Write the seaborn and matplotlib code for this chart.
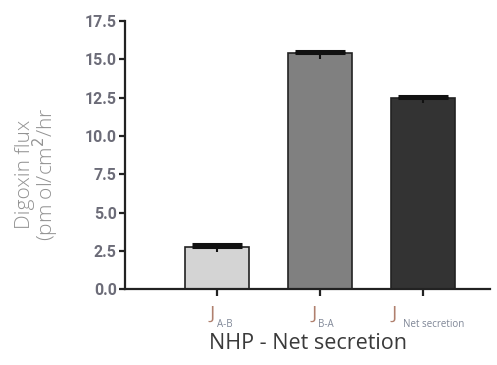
import numpy as np
import pandas as pd
import seaborn as sns
import matplotlib.pyplot as plt

# datos
categorias = ["A-B", "B-A", "Net secretion"]
flujo = [2.75, 15.4, 12.45]
error_sup = [0.2, 0.15, 0.15]
error_inf = [0.35, 0.4, 0.3]
colores = ["#d4d4d4", "#808080", "#333333"]

df = pd.DataFrame({"cat": categorias, "flux": flujo})

sns.set_style("ticks")
plt.rcParams['font.family'] = ['Open Sans', 'DejaVu Sans']

fig = plt.figure(figsize=(4.97, 3.65), dpi=100)
ax = fig.add_axes([0.2515, 0.208, 0.7345, 0.734])

sns.barplot(data=df, x="cat", y="flux", hue="cat", palette=colores, legend=False,
            width=0.62, edgecolor="#222222", linewidth=1.2, ax=ax)

x = np.arange(len(categorias))
# parte superior con tapa
ax.errorbar(x, flujo, yerr=[np.zeros(3), error_sup], fmt="none", ecolor="#111111",
            elinewidth=1.5, capsize=18, capthick=2.2)
# parte inferior sin tapa
ax.errorbar(x, flujo, yerr=[error_inf, np.zeros(3)], fmt="none", ecolor="#111111",
            elinewidth=1.5, capsize=0)

ax.set_ylim(0, 17.5)
ax.set_yticks(np.arange(0, 17.6, 2.5))
ax.set_yticklabels([f"{v:.1f}" for v in np.arange(0, 17.6, 2.5)])
ax.set_xlim(-0.89, 2.65)
ax.set_xticks(x)
ax.set_xticklabels([""] * len(x))

# etiquetas J con subindice pequeño (desplazamiento en puntos)
desp_j = [-1.5, -2.0, -18.7]
desp_sub = [0.5, -1.5, -14.4]
for i, sub in enumerate(categorias):
    ax.annotate("J", xy=(i, 0), xycoords=("data", "axes fraction"),
                xytext=(desp_j[i], -21.5), textcoords="offset points",
                ha="right", va="baseline", fontsize=14, color="#b0806e")
    ax.annotate(sub, xy=(i, 0), xycoords=("data", "axes fraction"),
                xytext=(desp_sub[i], -27), textcoords="offset points",
                ha="left", va="baseline", fontsize=7, color="#7f8696")

for s in ["top", "right"]:
    ax.spines[s].set_visible(False)
for s in ["left", "bottom"]:
    ax.spines[s].set_linewidth(1.6)
    ax.spines[s].set_color("#222222")

ax.tick_params(axis="y", direction="out", length=4, width=1.6, color="#222222",
               labelsize=11.5, labelcolor="#6c6c78", pad=2)
ax.tick_params(axis="x", direction="out", length=5, width=1.6, color="#222222")
for lab in ax.get_yticklabels():
    lab.set_fontfamily(['Roboto', 'DejaVu Sans'])
    lab.set_fontweight("bold")

ax.set_ylabel("Digoxin flux\n(pm ol/cm$^2$/hr", fontsize=15, color="#929292",
              linespacing=0.82, fontweight="light")
ax.yaxis.set_label_coords(-0.175, 0.43)
ax.set_xlabel("NHP - Net secretion", fontsize=15.5, color="#3a3a3a", labelpad=23)

fig.savefig("out.png", dpi=100)
